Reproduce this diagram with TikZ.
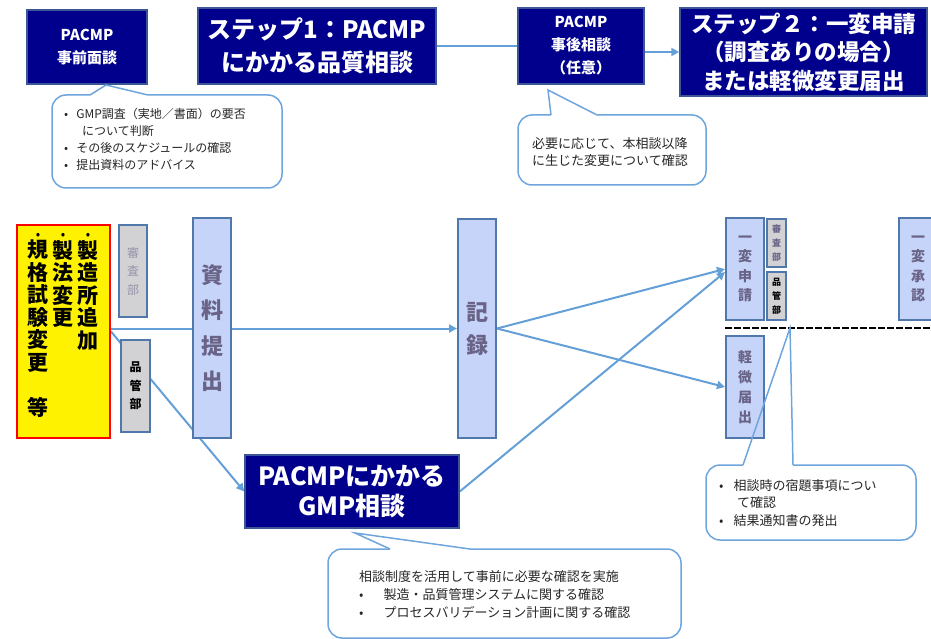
\documentclass[tikz,border=0pt]{standalone}
\usepackage{fontspec}
\setmainfont{Noto Sans CJK JP}
\usetikzlibrary{arrows.meta,backgrounds}

\definecolor{navybox}{RGB}{0,0,140}
\definecolor{navyedge}{RGB}{60,85,150}
\definecolor{paleblue}{RGB}{198,212,249}
\definecolor{steeledge}{RGB}{80,120,170}
\definecolor{graybox}{RGB}{210,210,212}
\definecolor{linkblue}{RGB}{100,160,215}
\definecolor{boxtext}{RGB}{105,100,135}
\definecolor{calloutedge}{RGB}{110,165,220}

\tikzset{
  titlebox/.style={draw=navyedge, line width=1.5pt, fill=navybox, text=white, align=center, inner sep=0pt},
  stagebox/.style={draw=steeledge, line width=2pt, fill=paleblue, text=boxtext, align=center, inner sep=0pt, minimum width=38pt},
  deptbox/.style={draw=steeledge, line width=1.8pt, fill=graybox, align=center, inner sep=0pt},
  tatedot/.style={inner sep=0pt, font=\fontsize{11}{11}\selectfont\bfseries},
  tatecol/.style={align=center, inner sep=0pt, anchor=north, font=\fontsize{21}{22.5}\selectfont\bfseries},
  link/.style={draw=linkblue, line width=2pt},
  linkarrow/.style={link, -{Triangle[length=8pt,width=8pt]}},
  balloon/.style={draw=calloutedge, line width=1.5pt, rounded corners=14pt},
  pointer/.style={draw=calloutedge, line width=1.5pt, line join=miter},
  note/.style={align=left, inner sep=0pt, text=black!85},
}

\begin{document}
\begin{tikzpicture}[x=1pt,y=-1pt]
\useasboundingbox (0,0) rectangle (931,639);

% fila de arriba
\node[titlebox, minimum width=120pt, minimum height=74pt, font=\fontsize{15}{23}\selectfont\bfseries] (pre) at (87,47) {PACMP\\事前面談};
\node[titlebox, minimum width=238pt, minimum height=76pt, font=\fontsize{24}{33}\selectfont\bfseries] (step1) at (317,46) {ステップ1：PACMP\\にかかる品質相談};
\node[titlebox, minimum width=126pt, minimum height=76pt, font=\fontsize{15}{23}\selectfont\bfseries] (post) at (581,46) {PACMP\\事後相談\\（任意）};
\node[titlebox, minimum width=247pt, minimum height=88pt, font=\fontsize{22.5}{28.5}\selectfont\bfseries] (step2) at (803.5,52) {ステップ２：一変申請\\（調査ありの場合）\\または軽微変更届出};

% cambios
\node[draw=red, line width=2pt, fill=yellow, minimum width=93pt, minimum height=213pt, inner sep=0pt] (change) at (63.5,331.5) {};
\node[tatedot] (dot1) at (88,236) {•};
\node[tatedot] (dot2) at (63,236) {•};
\node[tatedot] (dot3) at (38,236) {•};
\node[tatecol] (col1) at (88,240) {製\\造\\所\\追\\加};
\node[tatecol] (col2) at (63,240) {製\\法\\変\\更};
\node[tatecol] (col3) at (38,240) {規\\格\\試\\験\\変\\更\\　\\等};

\node[deptbox, minimum width=28pt, minimum height=92pt, text=boxtext!70, font=\fontsize{12}{18.5}\selectfont] (review) at (133,271) {審\\査\\部};
\node[deptbox, minimum width=29pt, minimum height=92pt, font=\fontsize{12}{18.5}\selectfont\bfseries] (quality) at (135.5,386) {品\\管\\部};

% etapas
\node[stagebox, minimum height=220pt, font=\fontsize{22}{35.5}\selectfont\bfseries] (submit) at (212,328) {資\\料\\提\\出};
\node[stagebox, minimum height=219pt, font=\fontsize{22}{33}\selectfont\bfseries] (record) at (477,328.5) {記\\録};
\node[titlebox, minimum width=214pt, minimum height=73pt, font=\fontsize{25}{30}\selectfont\bfseries] (gmp) at (352,491.5) {PACMPにかかる\\GMP相談};

\node[stagebox, minimum height=102pt, font=\fontsize{14}{19.5}\selectfont\bfseries] (apply) at (745,269) {一\\変\\申\\請};
\node[deptbox, minimum width=19pt, minimum height=48pt, text=boxtext, font=\fontsize{9}{14}\selectfont\bfseries] (reviewS) at (776.5,243) {審\\査\\部};
\node[deptbox, minimum width=19pt, minimum height=48pt, font=\fontsize{9}{14}\selectfont\bfseries] (qualityS) at (776.5,296) {品\\管\\部};
\node[stagebox, minimum height=102pt, font=\fontsize{14}{20}\selectfont\bfseries] (minor) at (745,387) {軽\\微\\届\\出};
\node[stagebox, minimum height=102pt, font=\fontsize{14}{19.5}\selectfont\bfseries] (approve) at (918,269) {一\\変\\承\\認};

\coordinate (dashL) at (725,328);
\coordinate (dashR) at (931,328);
\draw[black, line width=2.5pt, dash pattern=on 7pt off 2pt] (dashL) -- (dashR);

% flechas
\begin{scope}[on background layer]
\draw[link] (step1) -- (post);
\draw[linkarrow] (post.east |- step2.west) -- (step2.west);
\draw[linkarrow] (change.east |- record.west) -- (record.west);
\draw[linkarrow] (change.east) -- (gmp.west);
\draw[linkarrow] (record.east) -- (apply.west);
\draw[linkarrow] (record.east) -- (minor.west);
\draw[linkarrow] (gmp.east) -- ([yshift=-3pt]apply.west);
\end{scope}

% globo 1
\coordinate (tip1) at (106,85);
\fill[white, rounded corners=14pt] (52,95) rectangle (282,188);
\draw[balloon] (148,95) -- (282,95) -- (282,188) -- (52,188) -- (52,95) -- (90,95);
\draw[pointer] (90,95) -- (tip1) -- (148,95);
\node[note, anchor=north west, font=\fontsize{12}{17}\selectfont] (note1) at (64,108)
  {•\hspace{8pt}GMP調査（実地／書面）の要否\\\hspace{18pt}について判断\\•\hspace{8pt}その後のスケジュールの確認\\•\hspace{8pt}提出資料のアドバイス};

% globo 2
\coordinate (tip2) at (548,90);
\fill[white, rounded corners=14pt] (518,115) rectangle (706,185);
\draw[balloon] (597,115) -- (706,115) -- (706,185) -- (518,185) -- (518,115) -- (551,115);
\draw[pointer] (551,115) -- (tip2) -- (597,115);
\node[note, anchor=north west, font=\fontsize{13}{17}\selectfont] (note2) at (532,137)
  {必要に応じて、本相談以降\\に生じた変更について確認};

% globo 3
\coordinate (tip3) at (790,328);
\fill[white, rounded corners=14pt] (706,465) rectangle (916,540);
\draw[balloon] (793,465) -- (916,465) -- (916,540) -- (706,540) -- (706,465) -- (743,465);
\draw[pointer] (743,465) -- (tip3) -- (793,465);
\node[note, anchor=north west, font=\fontsize{13}{17.5}\selectfont] (note3) at (719,479)
  {•\hspace{10pt}相談時の宿題事項につい\\\hspace{18pt}て確認\\•\hspace{10pt}結果通知書の発出};

% globo 4
\coordinate (tip4) at (355,533);
\fill[white, rounded corners=14pt] (328,549) rectangle (681,638);
\draw[balloon] (470,549) -- (681,549) -- (681,638) -- (328,638) -- (328,549) -- (390,549);
\draw[pointer] (390,549) -- (tip4) -- (470,549);
\node[note, anchor=north west, font=\fontsize{13}{18}\selectfont] (note4) at (359,570)
  {相談制度を活用して事前に必要な確認を実施\\•\hspace{20pt}製造・品質管理システムに関する確認\\•\hspace{20pt}プロセスバリデーション計画に関する確認};

\end{tikzpicture}
\end{document}
